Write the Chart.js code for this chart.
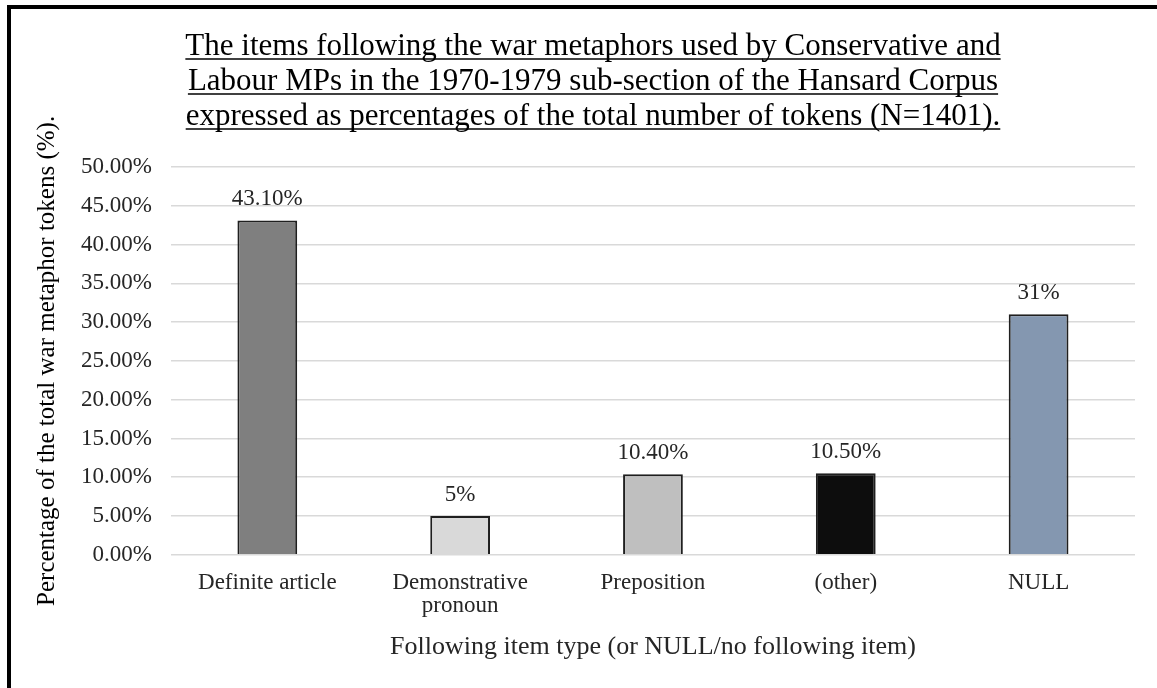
<!DOCTYPE html>
<html>
<head>
<meta charset="utf-8">
<script src="https://cdn.jsdelivr.net/npm/chart.js@4.4.1/dist/chart.umd.min.js"></script>
<style>
    body { margin: 0; background: #ffffff; }
    #frame {
        position: absolute;
        left: 7px;
        top: 5px;
        width: 1150px;
        height: 683px;
        border-top: 4px solid #000;
        border-left: 4px solid #000;
        background: #fff;
    }
    #chartBox { position: relative; width: 1146px; height: 679px; }
</style>
</head>
<body>
<div id="frame">
    <div id="chartBox"><canvas id="myChart"></canvas></div>
</div>
<script>
// 資料
const categories = ["Definite article", ["Demonstrative", "pronoun"], "Preposition", "(other)", "NULL"];
const percentValues = [43.1, 5, 10.4, 10.5, 31];
const valueLabels = ["43.10%", "5%", "10.40%", "10.50%", "31%"];
const barColors = ["#7f7f7f", "#d9d9d9", "#bfbfbf", "#0d0d0d", "#8497b0"];
const titleLines = [
    "The items following the war metaphors used by Conservative and",
    "Labour MPs in the 1970-1979 sub-section of the Hansard Corpus",
    "expressed as percentages of the total number of tokens (N=1401)."
];

const serif = "'Liberation Serif', 'Times New Roman', serif";

// 柱上數值
const valueLabelPlugin = {
    id: 'valueLabels',
    afterDatasetsDraw(chart) {
        const ctx = chart.ctx;
        const meta = chart.getDatasetMeta(0);
        ctx.save();
        ctx.font = "23px " + serif;
        ctx.fillStyle = "#262626";
        ctx.textAlign = "center";
        ctx.textBaseline = "bottom";
        meta.data.forEach(function (bar, i) {
            ctx.fillText(valueLabels[i], bar.x, bar.y - 10);
        });
        ctx.restore();
    }
};

// 標題 (含底線)
const titlePlugin = {
    id: 'underlinedTitle',
    afterDraw(chart) {
        const ctx = chart.ctx;
        const fontSize = 31;
        const lineGap = 35;
        const cx = 582;
        ctx.save();
        ctx.font = fontSize + "px " + serif;
        ctx.fillStyle = "#000";
        ctx.strokeStyle = "#000";
        ctx.lineWidth = 1.5;
        ctx.textAlign = "center";
        ctx.textBaseline = "alphabetic";
        titleLines.forEach(function (line, i) {
            const base = 46 + lineGap * i;
            ctx.fillText(line, cx, base);
            const w = ctx.measureText(line).width;
            ctx.beginPath();
            ctx.moveTo(cx - w / 2, base + 4);
            ctx.lineTo(cx + w / 2, base + 4);
            ctx.stroke();
        });
        ctx.restore();
    }
};

const ctx = document.getElementById('myChart').getContext('2d');
const myChart = new Chart(ctx, {
    type: 'bar',
    data: {
        labels: categories,
        datasets: [{
            data: percentValues,
            backgroundColor: barColors,
            borderColor: "#1f1f1f",
            borderWidth: 2,
            barPercentage: 0.62,
            categoryPercentage: 0.5
        }]
    },
    plugins: [valueLabelPlugin, titlePlugin],
    options: {
        responsive: true,
        maintainAspectRatio: false,
        animation: false,
        layout: {
            padding: { left: 17, right: 22, top: 158, bottom: 21 }
        },
        plugins: {
            legend: { display: false },
            tooltip: { enabled: false },
            title: { display: false }
        },
        scales: {
            x: {
                grid: { display: false },
                border: { display: false },
                ticks: {
                    color: "#262626",
                    font: { family: serif, size: 23, lineHeight: 1.0 },
                    padding: 9,
                    maxRotation: 0
                },
                title: {
                    display: true,
                    text: "Following item type (or NULL/no following item)",
                    color: "#262626",
                    font: { family: serif, size: 26 },
                    padding: { top: 5 }
                }
            },
            y: {
                min: 0,
                max: 50,
                grid: { color: "#d9d9d9", lineWidth: 1.5, drawTicks: false },
                border: { display: false },
                ticks: {
                    stepSize: 5,
                    color: "#262626",
                    font: { family: serif, size: 23 },
                    padding: 19,
                    callback: function (v) { return v.toFixed(2) + "%"; }
                },
                title: {
                    display: true,
                    text: "Percentage of the total war metaphor tokens (%).",
                    color: "#000",
                    font: { family: serif, size: 25 },
                    padding: { bottom: 0 }
                }
            }
        }
    }
});
</script>
</body>
</html>
